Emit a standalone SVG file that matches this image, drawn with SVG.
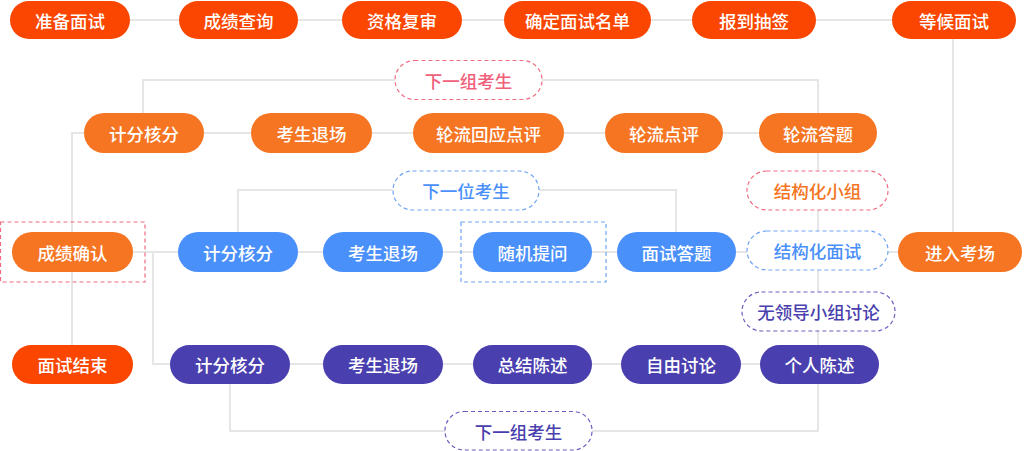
<svg xmlns="http://www.w3.org/2000/svg" width="1024" height="451" viewBox="0 0 1024 451">
<style>
text{font-family:"Noto Sans CJK SC","Noto Sans",sans-serif;font-size:17.5px;font-weight:500;text-anchor:middle;dominant-baseline:central}
.w{fill:#fff}
.red rect{fill:#FA4600}
.org rect{fill:#F57522}
.blu rect{fill:#4A90FA}
.pur rect{fill:#4A3FAE}
.lbl rect{fill:#fff;stroke-width:1.2;stroke-dasharray:4 3}
.conn{fill:none;stroke:#E6E6E6;stroke-width:2}
</style>
<rect width="1024" height="451" fill="#fff"/>
<g id="connectors" class="conn">
<path d="M130 20H179M298 20H342M462 20H504M651 20H692M816 20H892"/>
<path d="M953 39V232"/>
<path d="M143 113V80H395M542 80H818V113"/>
<path d="M204 133H251M372 133H413M564 133H605M723 133H759"/>
<path d="M818 153V364"/>
<path d="M84 133H72V345"/>
<path d="M238 232V190H393M539 190H676V232"/>
<path d="M133 252H178M298 252H323M443 252H473M592 252H617M736 252H747M888 252H898"/>
<path d="M153 252V364H170"/>
<path d="M290 364H323M443 364H473M592 364H621M741 364H760"/>
<path d="M230 384V431H445M592 431H818V384"/>
</g>
<g id="n1" class="red"><rect x="10" y="1" width="120" height="38" rx="19"/><text class="w" x="70" y="20">准备面试</text></g>
<g id="n2" class="red"><rect x="179" y="1" width="119" height="38" rx="19"/><text class="w" x="238.5" y="20">成绩查询</text></g>
<g id="n3" class="red"><rect x="342" y="1" width="120" height="38" rx="19"/><text class="w" x="402" y="20">资格复审</text></g>
<g id="n4" class="red"><rect x="504" y="1" width="147" height="38" rx="19"/><text class="w" x="577.5" y="20">确定面试名单</text></g>
<g id="n5" class="red"><rect x="692" y="1" width="124" height="38" rx="19"/><text class="w" x="754" y="20">报到抽签</text></g>
<g id="n6" class="red"><rect x="892" y="1" width="124" height="38" rx="19"/><text class="w" x="954" y="20">等候面试</text></g>

<g id="l1" class="lbl"><rect x="395" y="60.5" width="147" height="39" rx="19.5" stroke="#F06A82"/><text x="468.5" y="80" fill="#F0607A">下一组考生</text></g>

<g id="o1" class="org"><rect x="84" y="113" width="120" height="40" rx="20"/><text class="w" x="144" y="133">计分核分</text></g>
<g id="o2" class="org"><rect x="251" y="113" width="121" height="40" rx="20"/><text class="w" x="311.5" y="133">考生退场</text></g>
<g id="o3" class="org"><rect x="413" y="113" width="151" height="40" rx="20"/><text class="w" x="488.5" y="133">轮流回应点评</text></g>
<g id="o4" class="org"><rect x="605" y="113" width="118" height="40" rx="20"/><text class="w" x="664" y="133">轮流点评</text></g>
<g id="o5" class="org"><rect x="759" y="113" width="118" height="40" rx="20"/><text class="w" x="818" y="133">轮流答题</text></g>

<g id="l2" class="lbl"><rect x="393" y="171" width="146" height="39" rx="19.5" stroke="#6EA4F5"/><text x="466" y="190.5" fill="#4A90FA">下一位考生</text></g>
<g id="l3" class="lbl"><rect x="747" y="171" width="141" height="39" rx="19.5" stroke="#F06A82"/><text x="817.5" y="190.5" fill="#F57522">结构化小组</text></g>
<g id="l4" class="lbl"><rect x="747" y="231" width="141" height="39" rx="19.5" stroke="#6EA4F5"/><text x="817.5" y="250.5" fill="#4A90FA">结构化面试</text></g>

<g id="box1"><rect x="0.5" y="222" width="144.5" height="60" fill="none" stroke="#F06A82" stroke-width="1.2" stroke-dasharray="4 3"/></g>
<g id="box2"><rect x="461" y="222" width="145" height="60" fill="none" stroke="#6EA4F5" stroke-width="1.2" stroke-dasharray="4 3"/></g>

<g id="c1" class="org"><rect x="12" y="232" width="121" height="40" rx="20"/><text class="w" x="72.5" y="252">成绩确认</text></g>
<g id="b1" class="blu"><rect x="178" y="232" width="120" height="40" rx="20"/><text class="w" x="238" y="252">计分核分</text></g>
<g id="b2" class="blu"><rect x="323" y="232" width="120" height="40" rx="20"/><text class="w" x="383" y="252">考生退场</text></g>
<g id="b3" class="blu"><rect x="473" y="232" width="119" height="40" rx="20"/><text class="w" x="532.5" y="252">随机提问</text></g>
<g id="b4" class="blu"><rect x="617" y="232" width="119" height="40" rx="20"/><text class="w" x="676.5" y="252">面试答题</text></g>
<g id="e1" class="org"><rect x="898" y="232" width="124" height="40" rx="20"/><text class="w" x="960" y="252">进入考场</text></g>

<g id="l5" class="lbl"><rect x="742" y="292" width="153" height="39" rx="19.5" stroke="#6A60C0"/><text x="818.5" y="311.5" fill="#4A3FAE">无领导小组讨论</text></g>

<g id="end" class="red"><rect x="12" y="345" width="121" height="39" rx="19.5"/><text class="w" x="72.5" y="364.5">面试结束</text></g>
<g id="p1" class="pur"><rect x="170" y="345" width="120" height="39" rx="19.5"/><text class="w" x="230" y="364.5">计分核分</text></g>
<g id="p2" class="pur"><rect x="323" y="345" width="120" height="39" rx="19.5"/><text class="w" x="383" y="364.5">考生退场</text></g>
<g id="p3" class="pur"><rect x="473" y="345" width="119" height="39" rx="19.5"/><text class="w" x="532.5" y="364.5">总结陈述</text></g>
<g id="p4" class="pur"><rect x="621" y="345" width="120" height="39" rx="19.5"/><text class="w" x="681" y="364.5">自由讨论</text></g>
<g id="p5" class="pur"><rect x="760" y="345" width="119" height="39" rx="19.5"/><text class="w" x="819.5" y="364.5">个人陈述</text></g>

<g id="l6" class="lbl"><rect x="445" y="411.5" width="147" height="38.5" rx="19" stroke="#6A60C0"/><text x="518.5" y="431" fill="#4A3FAE">下一组考生</text></g>
</svg>
